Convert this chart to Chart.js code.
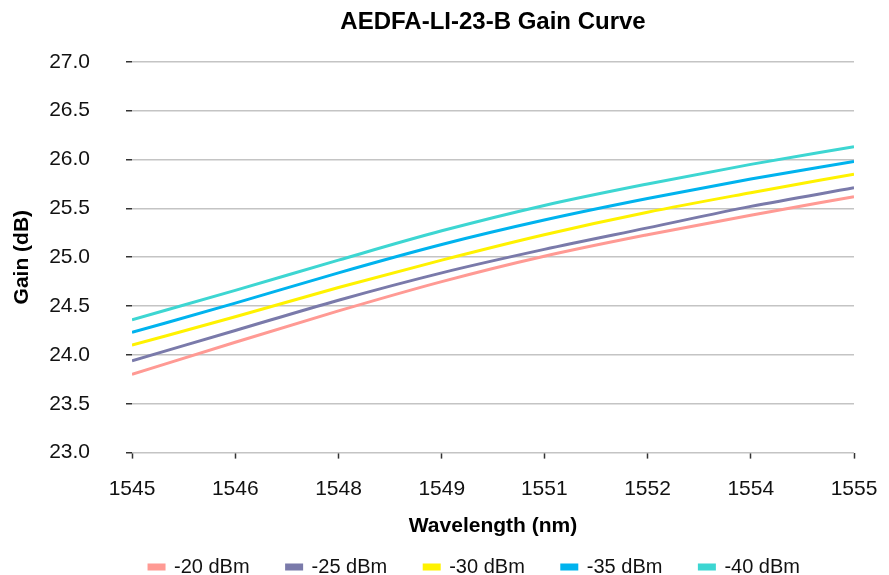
<!DOCTYPE html>
<html>
<head>
<meta charset="utf-8">
<script src="https://cdn.jsdelivr.net/npm/chart.js@4/dist/chart.umd.min.js"></script>
<style>
  html, body { margin: 0; padding: 0; background: #ffffff; }
  #wrap { width: 889px; height: 575px; }
</style>
</head>
<body>
<div id="wrap"><canvas id="c"></canvas></div>
<script>
// Wavelength positions (nm) of the data points / ticks
const wavelengths = [1545, 1546.43, 1547.86, 1549.29, 1550.71, 1552.14, 1553.57, 1555];
const xTickLabels = ['1545', '1546', '1548', '1549', '1551', '1552', '1554', '1555'];
const seriesNames = ['-20 dBm', '-25 dBm', '-30 dBm', '-35 dBm', '-40 dBm'];
const gain20 = [23.80, 24.13, 24.45, 24.75, 25.01, 25.23, 25.43, 25.62];
const gain25 = [23.94, 24.25, 24.56, 24.84, 25.08, 25.30, 25.52, 25.71];
const gain30 = [24.10, 24.39, 24.69, 24.97, 25.23, 25.46, 25.66, 25.85];
const gain35 = [24.23, 24.53, 24.84, 25.13, 25.38, 25.60, 25.80, 25.98];
const gain40 = [24.36, 24.66, 24.97, 25.27, 25.53, 25.75, 25.95, 26.13];
const seriesColors = ['#ff9a94', '#7a7aaa', '#fff200', '#00b3ee', '#3dd6d2'];

const allSeries = [gain20, gain25, gain30, gain35, gain40];
const FONT = "'Liberation Sans', Arial, Helvetica, sans-serif";

const datasets = allSeries.map((vals, i) => ({
  label: seriesNames[i],
  data: vals.map((v, j) => ({ x: wavelengths[j], y: v })),
  borderColor: seriesColors[i],
  backgroundColor: seriesColors[i],
  borderWidth: 3,
  pointRadius: 0,
  cubicInterpolationMode: 'monotone',
  fill: false
}));

const legendShift = {
  id: 'legendShift',
  afterLayout(chart) {
    const lg = chart.legend;
    if (lg) { lg.left += 36; lg.right += 36; }
  }
};

new Chart(document.getElementById('c'), {
  type: 'line',
  data: { datasets },
  plugins: [legendShift],
  options: {
    responsive: true,
    maintainAspectRatio: false,
    animation: false,
    layout: { padding: { left: 10, right: 22, top: 0, bottom: -12 } },
    plugins: {
      title: {
        display: true,
        text: 'AEDFA-LI-23-B Gain Curve',
        fullSize: false,
        color: '#000',
        font: { family: FONT, size: 24, weight: 'bold' },
        padding: { top: 8, bottom: 25 }
      },
      legend: {
        position: 'bottom',
        labels: {
          color: '#111',
          font: { family: FONT, size: 20 },
          boxWidth: 15,
          boxHeight: 4,
          padding: 37
        }
      },
      tooltip: { enabled: false }
    },
    scales: {
      x: {
        type: 'linear',
        min: 1545,
        max: 1555,
        afterBuildTicks: (axis) => { axis.ticks = wavelengths.map(v => ({ value: v })); },
        afterFit: (scale) => { scale.paddingRight = 35; },
        ticks: {
          color: '#111',
          font: { family: FONT, size: 21 },
          padding: 18,
          maxRotation: 0,
          autoSkip: false,
          callback: (v, i) => xTickLabels[i]
        },
        grid: {
          drawOnChartArea: false,
          drawTicks: true,
          tickLength: 6,
          tickColor: '#333',
          tickWidth: 1.5
        },
        border: { display: false },
        title: {
          display: true,
          text: 'Wavelength (nm)',
          color: '#000',
          font: { family: FONT, size: 21, weight: 'bold' },
          padding: { top: -6, bottom: -19 }
        }
      },
      y: {
        min: 23,
        max: 27,
        afterFit: (scale) => { scale.width = 122; },
        ticks: {
          stepSize: 0.5,
          color: '#111',
          font: { family: FONT, size: 21 },
          padding: 36,
          callback: (v) => Number(v).toFixed(1)
        },
        grid: {
          color: '#c4c4c4',
          lineWidth: 1.5,
          drawTicks: true,
          tickLength: 6,
          tickColor: '#333',
          tickWidth: 1.5
        },
        border: { display: false },
        title: {
          display: true,
          text: 'Gain (dB)',
          color: '#000',
          font: { family: FONT, size: 21, weight: 'bold' },
          padding: { top: 0, bottom: 0 }
        }
      }
    }
  }
});
</script>
</body>
</html>
